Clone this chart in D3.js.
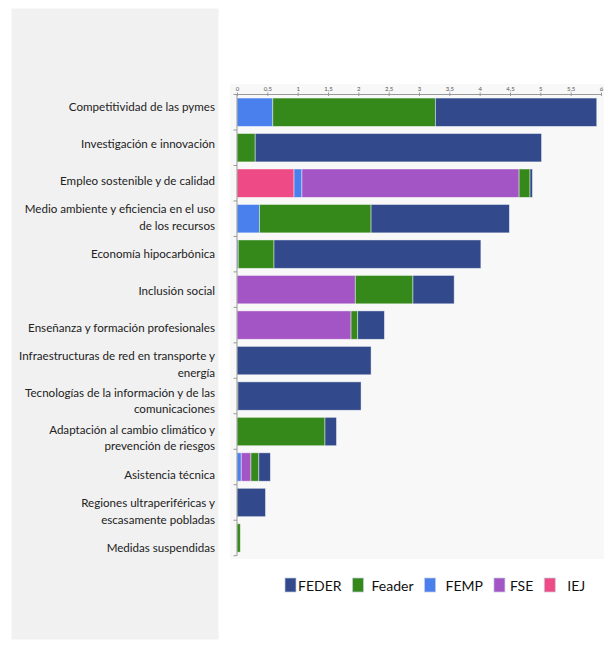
<!DOCTYPE html>
<html><head><meta charset="utf-8">
<script src="https://cdn.jsdelivr.net/npm/d3@7/dist/d3.min.js"></script>
<style>body{margin:0;background:#fff}svg{display:block}</style>
</head><body>
<script>
// ---- data ----
const categories = [
  "Competitividad de las pymes",
  "Investigación e innovación",
  "Empleo sostenible y de calidad",
  "Medio ambiente y eficiencia en el uso\nde los recursos",
  "Economía hipocarbónica",
  "Inclusión social",
  "Enseñanza y formación profesionales",
  "Infraestructuras de red en transporte y\nenergía",
  "Tecnologías de la información y de las\ncomunicaciones",
  "Adaptación al cambio climático y\nprevención de riesgos",
  "Asistencia técnica",
  "Regiones ultraperiféricas y\nescasamente pobladas",
  "Medidas suspendidas"
];
// stacking order left -> right
const seriesNames = ["IEJ", "FEMP", "FSE", "Feader", "FEDER"];
const IEJ    = [0,    0,    0.94, 0,    0,    0,    0,    0,    0,     0,    0,    0,    0];
const FEMP   = [0.59, 0,    0.13, 0.37, 0.02, 0,    0,    0,    0,     0,    0.07, 0,    0];
const FSE    = [0,    0,    3.58, 0,    0,    1.95, 1.88, 0,    0,     0,    0.16, 0,    0];
const Feader = [2.68, 0.30, 0.18, 1.84, 0.59, 0.95, 0.11, 0,    0.015, 1.45, 0.13, 0,    0.055];
const FEDER  = [2.66, 4.72, 0.04, 2.28, 3.41, 0.68, 0.44, 2.21, 2.03,  0.19, 0.19, 0.47, 0];
const xTicks = [0, 0.5, 1, 1.5, 2, 2.5, 3, 3.5, 4, 4.5, 5, 5.5, 6];
const legendOrder = ["FEDER", "Feader", "FEMP", "FSE", "IEJ"];
const colors = {FEDER:"#324a8b", Feader:"#35891a", FEMP:"#4a7fee", FSE:"#a455c5", IEJ:"#ee4a85"};

const seriesData = {IEJ, FEMP, FSE, Feader, FEDER};
const table = categories.map((c, i) => {
  const row = {cat: c};
  seriesNames.forEach(s => row[s] = seriesData[s][i]);
  return row;
});

const W = 604, H = 652;
const svg = d3.select("body").append("svg").attr("width", W).attr("height", H);
const font = "Lato, 'Open Sans', sans-serif";

// left label panel
svg.append("rect").attr("x", 11.5).attr("y", 8.5).attr("width", 207).attr("height", 631).attr("fill", "#f1f1f1");
// plot background
svg.append("rect").attr("x", 230).attr("y", 84).attr("width", 374).attr("height", 475).attr("fill", "#f8f8f8");

const x = d3.scaleLinear().domain([0, 6]).range([237, 601]);
const y = d3.scaleBand().domain(categories).range([94.5, 555.7]).paddingInner(0.2).paddingOuter(0.1);

const stack = d3.stack().keys(seriesNames)(table);

svg.append("g").selectAll("g").data(stack).join("g")
  .attr("fill", d => colors[d.key])
  .selectAll("rect").data(d => d.filter(p => p[1] - p[0] > 0)).join("rect")
  .attr("x", p => x(p[0]))
  .attr("y", p => y(p.data.cat))
  .attr("width", p => x(p[1]) - x(p[0]))
  .attr("height", y.bandwidth())
  .attr("stroke", "rgba(255,255,255,0.55)")
  .attr("stroke-width", 0.8);

// top x axis
const xAxis = d3.axisTop(x).tickValues(xTicks).tickSize(3)
  .tickFormat(d => String(d).replace(".", ","));
const gx = svg.append("g").attr("transform", "translate(0,94.5)").call(xAxis);
gx.select(".domain").attr("stroke", "#999").attr("d", `M${x(0)},0H${x(6)}`);
gx.selectAll(".tick line").attr("stroke", "#999").attr("y1", 1.5).attr("y2", -2);
gx.selectAll(".tick text").attr("font-size", 6).attr("font-family", font).attr("fill", "#555").attr("dy", "-0.1em").attr("y", -2.5);

// left y axis line with ticks at band boundaries
const yr = y.range();
const step = y.step();
const boundaries = d3.range(categories.length + 1).map(i => y(categories[0]) - step * y.paddingInner() / 2 + i * step);
svg.append("line").attr("x1", 237).attr("x2", 237).attr("y1", yr[0]).attr("y2", yr[1]).attr("stroke", "#999");
svg.append("g").selectAll("line").data(boundaries).join("line")
  .attr("x1", 233.5).attr("x2", 237).attr("y1", d => d).attr("y2", d => d).attr("stroke", "#999");

// category labels in the left panel
const yl = d3.scalePoint().domain(categories).range([106, 547]);
const lineH = 16.5;
const lg = svg.append("g").attr("font-family", font).attr("font-size", 11.6).attr("fill", "#222").attr("text-anchor", "end");
categories.forEach(c => {
  const lines = c.split("\n");
  const t = lg.append("text").attr("x", 215).attr("y", yl(c) - (lines.length - 1) * lineH / 2).attr("dominant-baseline", "central");
  lines.forEach((ln, i) => t.append("tspan").attr("x", 215).attr("dy", i === 0 ? 0 : lineH).text(ln));
});

// legend
const leg = svg.append("g").attr("font-family", font).attr("font-size", 14).attr("fill", "#111");
let lx = 285;
const gaps = [13, 19, 21, 16, 23];
legendOrder.forEach((k, i) => {
  leg.append("rect").attr("x", lx).attr("y", 578).attr("width", 11).attr("height", 14)
    .attr("fill", colors[k]).attr("stroke", "rgba(200,205,225,0.7)").attr("stroke-width", 1);
  const t = leg.append("text").attr("x", lx + gaps[i]).attr("y", 585).attr("dominant-baseline", "central").text(k);
  const w = t.node().getComputedTextLength();
  lx = lx + gaps[i] + w + 11;
});
</script>
</body></html>
